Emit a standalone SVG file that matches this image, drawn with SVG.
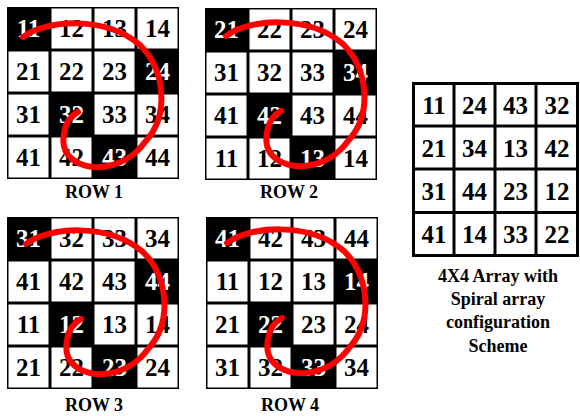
<svg xmlns="http://www.w3.org/2000/svg" xmlns:xlink="http://www.w3.org/1999/xlink" width="580" height="416" viewBox="0 0 580 416">
<style>
.t{font-family:"Liberation Serif","Times New Roman",serif;font-weight:bold;font-size:25px;text-anchor:middle;fill:#000}
.w{fill:#fff}
.lbl{font-family:"Liberation Serif","Times New Roman",serif;font-weight:bold;font-size:18px;text-anchor:middle;fill:#000}
.sp{fill:none;stroke:#ff0000;stroke-width:6;stroke-linecap:round;stroke-linejoin:round}
.wc{fill:#fff}
</style>
<defs>
<g id="cells">
<rect width="172" height="172" fill="#000"/>
<rect class="wc" x="44.5" y="1.5" width="40" height="40"/>
<rect class="wc" x="87.5" y="1.5" width="40" height="40"/>
<rect class="wc" x="130.5" y="1.5" width="40" height="40"/>
<rect class="wc" x="1.5" y="44.5" width="40" height="40"/>
<rect class="wc" x="44.5" y="44.5" width="40" height="40"/>
<rect class="wc" x="87.5" y="44.5" width="40" height="40"/>
<rect class="wc" x="1.5" y="87.5" width="40" height="40"/>
<rect class="wc" x="87.5" y="87.5" width="40" height="40"/>
<rect class="wc" x="130.5" y="87.5" width="40" height="40"/>
<rect class="wc" x="1.5" y="130.5" width="40" height="40"/>
<rect class="wc" x="44.5" y="130.5" width="40" height="40"/>
<rect class="wc" x="130.5" y="130.5" width="40" height="40"/>
</g>
<path id="spiral" d="M23,37 C45,20 105,15 140,45 C165,70 170,115 145,142 C125,170 85,175 68,155 C60,145 62,120 78,112"/>
</defs>

<g id="grid1">
<g transform="translate(7,7)">
<use xlink:href="#cells"/>
<text class="t w" x="21.5" y="30">11</text><text class="t" x="64.5" y="30">12</text><text class="t" x="107.5" y="30">13</text><text class="t" x="150.5" y="30">14</text>
<text class="t" x="21.5" y="73">21</text><text class="t" x="64.5" y="73">22</text><text class="t" x="107.5" y="73">23</text><text class="t w" x="150.5" y="73">24</text>
<text class="t" x="21.5" y="116">31</text><text class="t w" x="64.5" y="116">32</text><text class="t" x="107.5" y="116">33</text><text class="t" x="150.5" y="116">34</text>
<text class="t" x="21.5" y="159">41</text><text class="t" x="64.5" y="159">42</text><text class="t w" x="107.5" y="159">43</text><text class="t" x="150.5" y="159">44</text>
</g>
<use xlink:href="#spiral" class="sp"/>
<text class="lbl" x="94" y="198">ROW 1</text>
</g>

<g id="grid2">
<g transform="translate(205,8)">
<use xlink:href="#cells"/>
<text class="t w" x="21.5" y="30">21</text><text class="t" x="64.5" y="30">22</text><text class="t" x="107.5" y="30">23</text><text class="t" x="150.5" y="30">24</text>
<text class="t" x="21.5" y="73">31</text><text class="t" x="64.5" y="73">32</text><text class="t" x="107.5" y="73">33</text><text class="t w" x="150.5" y="73">34</text>
<text class="t" x="21.5" y="116">41</text><text class="t w" x="64.5" y="116">42</text><text class="t" x="107.5" y="116">43</text><text class="t" x="150.5" y="116">44</text>
<text class="t" x="21.5" y="159">11</text><text class="t" x="64.5" y="159">12</text><text class="t w" x="107.5" y="159">13</text><text class="t" x="150.5" y="159">14</text>
</g>
<use xlink:href="#spiral" class="sp" transform="translate(203,-1)"/>
<text class="lbl" x="289" y="198">ROW 2</text>
</g>

<g id="grid3">
<g transform="translate(7,217)">
<use xlink:href="#cells"/>
<text class="t w" x="21.5" y="30">31</text><text class="t" x="64.5" y="30">32</text><text class="t" x="107.5" y="30">33</text><text class="t" x="150.5" y="30">34</text>
<text class="t" x="21.5" y="73">41</text><text class="t" x="64.5" y="73">42</text><text class="t" x="107.5" y="73">43</text><text class="t w" x="150.5" y="73">44</text>
<text class="t" x="21.5" y="116">11</text><text class="t w" x="64.5" y="116">12</text><text class="t" x="107.5" y="116">13</text><text class="t" x="150.5" y="116">14</text>
<text class="t" x="21.5" y="159">21</text><text class="t" x="64.5" y="159">22</text><text class="t w" x="107.5" y="159">23</text><text class="t" x="150.5" y="159">24</text>
</g>
<use xlink:href="#spiral" class="sp" transform="translate(3,207)"/>
<text class="lbl" x="94" y="411">ROW 3</text>
</g>

<g id="grid4">
<g transform="translate(206,217)">
<use xlink:href="#cells"/>
<text class="t w" x="21.5" y="30">41</text><text class="t" x="64.5" y="30">42</text><text class="t" x="107.5" y="30">43</text><text class="t" x="150.5" y="30">44</text>
<text class="t" x="21.5" y="73">11</text><text class="t" x="64.5" y="73">12</text><text class="t" x="107.5" y="73">13</text><text class="t w" x="150.5" y="73">14</text>
<text class="t" x="21.5" y="116">21</text><text class="t w" x="64.5" y="116">22</text><text class="t" x="107.5" y="116">23</text><text class="t" x="150.5" y="116">24</text>
<text class="t" x="21.5" y="159">31</text><text class="t" x="64.5" y="159">32</text><text class="t w" x="107.5" y="159">33</text><text class="t" x="150.5" y="159">34</text>
</g>
<use xlink:href="#spiral" class="sp" transform="translate(204,206)"/>
<text class="lbl" x="290" y="411">ROW 4</text>
</g>

<g id="result">
<g transform="translate(412,82)">
<rect width="167" height="175" fill="#000"/>
<rect class="wc" x="3" y="3" width="37.5" height="39.5"/>
<rect class="wc" x="43.5" y="3" width="38" height="39.5"/>
<rect class="wc" x="84.5" y="3" width="38" height="39.5"/>
<rect class="wc" x="125.5" y="3" width="38.5" height="39.5"/>
<rect class="wc" x="3" y="45.5" width="37.5" height="40"/>
<rect class="wc" x="43.5" y="45.5" width="38" height="40"/>
<rect class="wc" x="84.5" y="45.5" width="38" height="40"/>
<rect class="wc" x="125.5" y="45.5" width="38.5" height="40"/>
<rect class="wc" x="3" y="88.5" width="37.5" height="40.5"/>
<rect class="wc" x="43.5" y="88.5" width="38" height="40.5"/>
<rect class="wc" x="84.5" y="88.5" width="38" height="40.5"/>
<rect class="wc" x="125.5" y="88.5" width="38.5" height="40.5"/>
<rect class="wc" x="3" y="132" width="37.5" height="40"/>
<rect class="wc" x="43.5" y="132" width="38" height="40"/>
<rect class="wc" x="84.5" y="132" width="38" height="40"/>
<rect class="wc" x="125.5" y="132" width="38.5" height="40"/>
<text class="t" x="22" y="31.5">11</text><text class="t" x="62.5" y="31.5">24</text><text class="t" x="103.5" y="31.5">43</text><text class="t" x="145" y="31.5">32</text>
<text class="t" x="22" y="74.5">21</text><text class="t" x="62.5" y="74.5">34</text><text class="t" x="103.5" y="74.5">13</text><text class="t" x="145" y="74.5">42</text>
<text class="t" x="22" y="117.5">31</text><text class="t" x="62.5" y="117.5">44</text><text class="t" x="103.5" y="117.5">23</text><text class="t" x="145" y="117.5">12</text>
<text class="t" x="22" y="161">41</text><text class="t" x="62.5" y="161">14</text><text class="t" x="103.5" y="161">33</text><text class="t" x="145" y="161">22</text>
</g>
<text class="lbl" x="498" y="282">4X4 Array with</text>
<text class="lbl" x="498" y="305">Spiral array</text>
<text class="lbl" x="498" y="328">configuration</text>
<text class="lbl" x="498" y="352">Scheme</text>
</g>
</svg>
